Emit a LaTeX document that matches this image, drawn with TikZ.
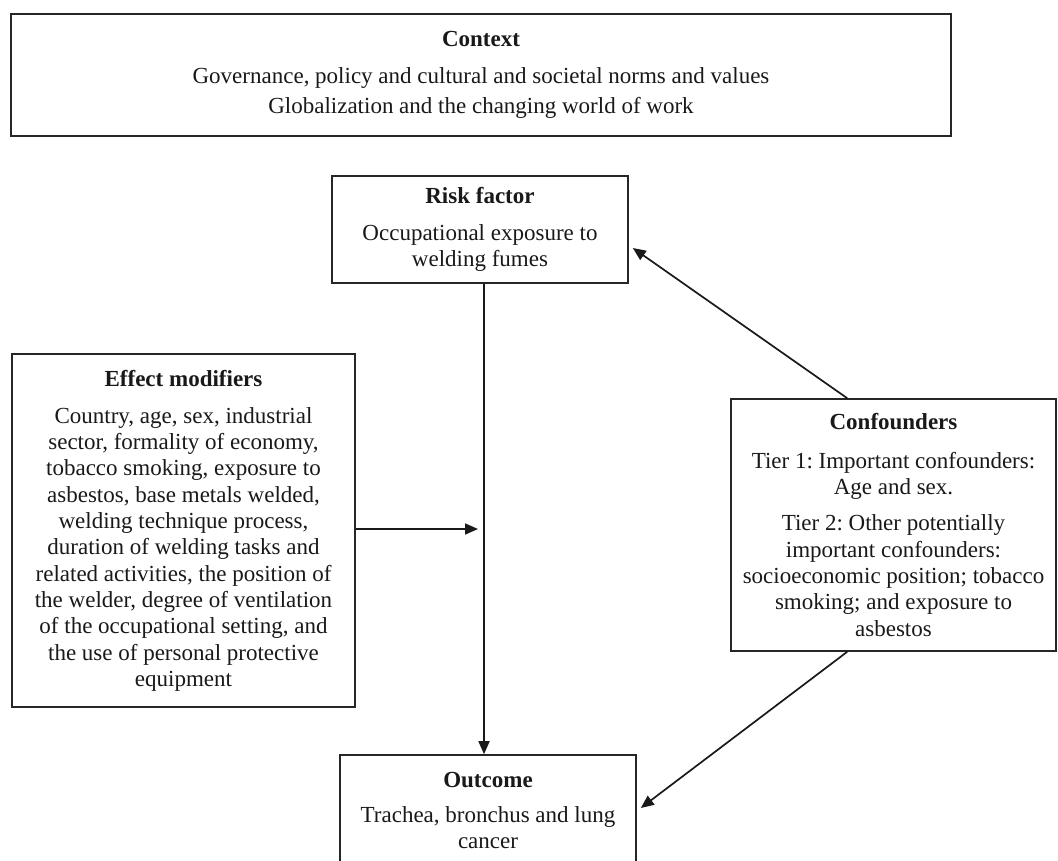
\documentclass[tikz,border=0pt]{standalone}
\usepackage{fontspec}
\setmainfont{Liberation Serif}
\usetikzlibrary{arrows.meta,calc}
\tikzset{
  box/.style={draw=black!85, line width=1.6pt, align=center, inner sep=0pt,
    font=\fontsize{23}{26.3}\selectfont\frenchspacing, text=black!90},
  arr/.style={line width=1.7pt, draw=black!90, -{Triangle[length=13pt,width=11pt]}}
}
\begin{document}
\begin{tikzpicture}[x=1pt,y=-1pt]
\useasboundingbox (0,0) rectangle (1058,861);
\fill[white] (0,0) rectangle (1058,861);

\node[box, minimum width=940pt, minimum height=122pt] (context) at (481,75)
  {\textbf{Context}\\[11pt]
   Governance, policy and cultural and societal norms and values\\[4pt]
   Globalization and the changing world of work};

\node[box, minimum width=296pt, minimum height=107pt] (risk) at (480,229.5)
  {\textbf{Risk factor}\\[11pt]
   Occupational exposure to\\
   welding fumes};

\node[box, minimum width=343pt, minimum height=353pt] (effect) at (183.5,530.5)
  {\textbf{Effect modifiers}\\[11pt]
   Country, age, sex, industrial\\
   sector, formality of economy,\\
   tobacco smoking, exposure to\\
   asbestos, base metals welded,\\
   welding technique process,\\
   duration of welding tasks and\\
   related activities, the position of\\
   the welder, degree of ventilation\\
   of the occupational setting, and\\
   the use of personal protective\\
   equipment};

\node[box, minimum width=325pt, minimum height=252pt] (conf) at (893.5,525)
  {\textbf{Confounders}\\[12pt]
   Tier 1: Important confounders:\\
   Age and sex.\\[10pt]
   Tier 2: Other potentially\\
   important confounders:\\
   socioeconomic position; tobacco\\
   smoking; and exposure to\\
   asbestos};

\node[box, minimum width=296pt, minimum height=111pt] (outcome) at (488,810.5)
  {\textbf{Outcome}\\[9pt]
   Trachea, bronchus and lung\\
   cancer};

\coordinate (mid) at (484,529);

\draw[arr] (risk.south -| mid) -- (outcome.north -| mid);
\draw[arr, shorten >=6pt] (effect.east |- mid) -- (mid);
\draw[arr] ($(conf.north west)+(117,0)$) -- ($(risk.east)+(4,18.5)$);
\draw[arr] ($(conf.south west)+(117,0)$) -- ($(outcome.east)+(4,-2.5)$);
\end{tikzpicture}
\end{document}
